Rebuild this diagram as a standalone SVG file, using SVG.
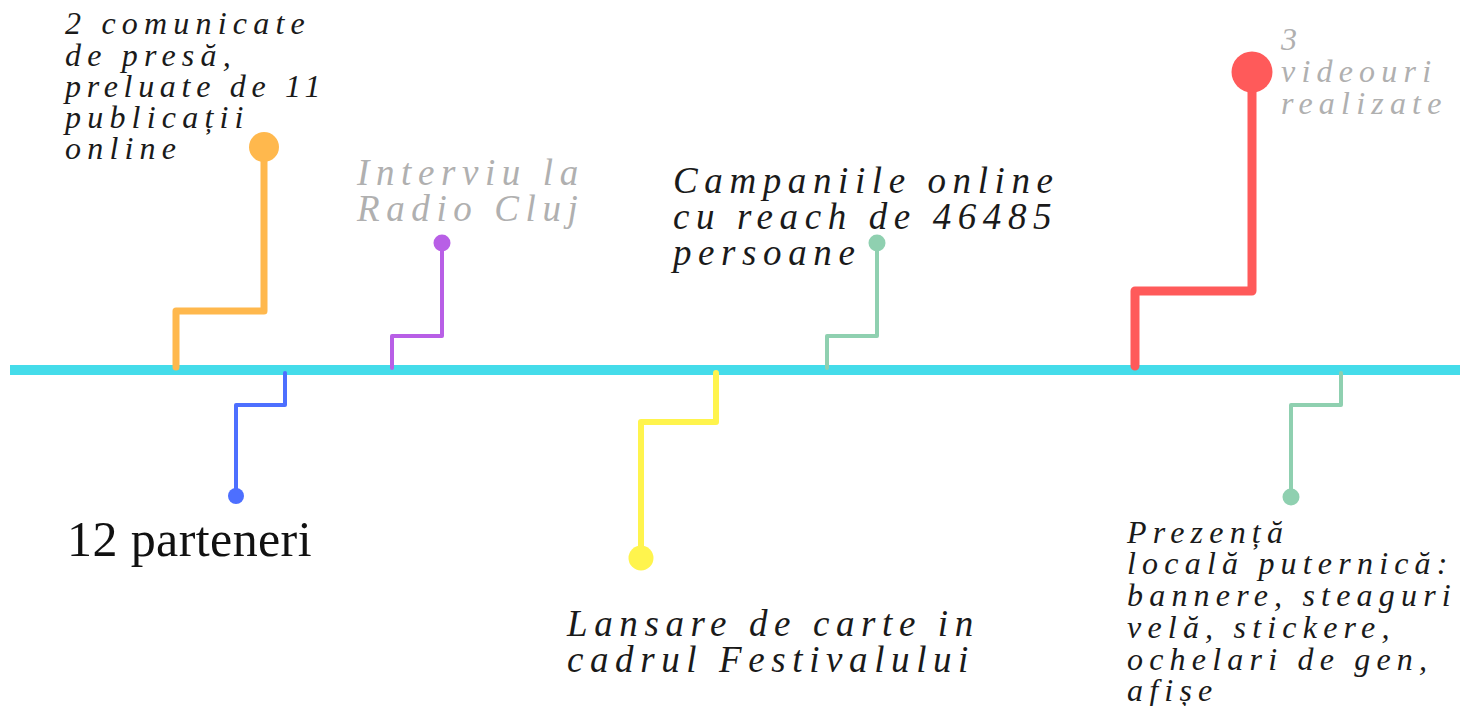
<svg xmlns="http://www.w3.org/2000/svg" width="1460" height="706" viewBox="0 0 1460 706">
<style>
text{font-family:"Liberation Serif",serif}
.i{font-style:italic;fill:#1a1a1a}
.s{font-size:32px;letter-spacing:6.2px}
.m{font-size:37px;letter-spacing:6.6px}
.g{fill:#b0b0b0}
.p{font-size:50px;fill:#111;letter-spacing:.4px}
.c{fill:none;stroke-linejoin:round;stroke-linecap:round}
</style>
<rect width="1460" height="706" fill="#fff"/>
<g id="connectors">
<path d="M10 370H1460" stroke="#45dcea" stroke-width="10" fill="none"/>
<path class="c" d="M176 367V311H264V147" stroke="#ffb84d" stroke-width="7"/>
<path class="c" d="M285 373V405H236V496" stroke="#4d6fff" stroke-width="4"/>
<path class="c" d="M392 368V336H442V243" stroke="#b85fe6" stroke-width="4"/>
<path class="c" d="M716 373V422H641V558" stroke="#fff44d" stroke-width="6"/>
<path class="c" d="M827 368V336H877V243" stroke="#8fd0b0" stroke-width="4"/>
<path class="c" d="M1135 366V291H1252V72" stroke="#ff5a5a" stroke-width="9"/>
<path class="c" d="M1341 373V405H1291V497" stroke="#8fd0b0" stroke-width="4"/>
</g>
<g id="n1"><circle cx="264" cy="147" r="15" fill="#ffb84d"/><text class="i s"><tspan x="65" y="34">2 comunicate</tspan><tspan x="65" y="66">de presă,</tspan><tspan x="65" y="97" style="letter-spacing:5.700px">preluate de 11</tspan><tspan x="65" y="128">publicații</tspan><tspan x="65" y="159">online</tspan></text></g>
<g id="n2"><circle cx="236" cy="496" r="8" fill="#4d6fff"/><text class="p" x="67" y="556">12 parteneri</text></g>
<g id="n3"><circle cx="442" cy="243" r="8.500" fill="#b85fe6"/><text class="i m g"><tspan x="357" y="185">Interviu la</tspan><tspan x="357" y="221">Radio Cluj</tspan></text></g>
<g id="n4"><circle cx="641" cy="558" r="12.500" fill="#fff44d"/><text class="i m"><tspan x="567" y="636">Lansare de carte in</tspan><tspan x="567" y="672">cadrul Festivalului</tspan></text></g>
<g id="n5"><circle cx="877" cy="243" r="8.500" fill="#8fd0b0"/><text class="i m"><tspan x="673" y="193">Campaniile online</tspan><tspan x="673" y="229">cu reach de 46485</tspan><tspan x="673" y="265">persoane</tspan></text></g>
<g id="n6"><circle cx="1252" cy="72" r="20.500" fill="#ff5a5a"/><text class="i s g"><tspan x="1281" y="50">3</tspan><tspan x="1281" y="82">videouri</tspan><tspan x="1281" y="114">realizate</tspan></text></g>
<g id="n7"><circle cx="1291" cy="497" r="8.500" fill="#8fd0b0"/><text class="i s"><tspan x="1127" y="543">Prezență</tspan><tspan x="1127" y="574">locală puternică:</tspan><tspan x="1127" y="606">bannere, steaguri</tspan><tspan x="1127" y="638">velă, stickere,</tspan><tspan x="1127" y="670">ochelari de gen,</tspan><tspan x="1127" y="701">afișe</tspan></text></g>
</svg>
